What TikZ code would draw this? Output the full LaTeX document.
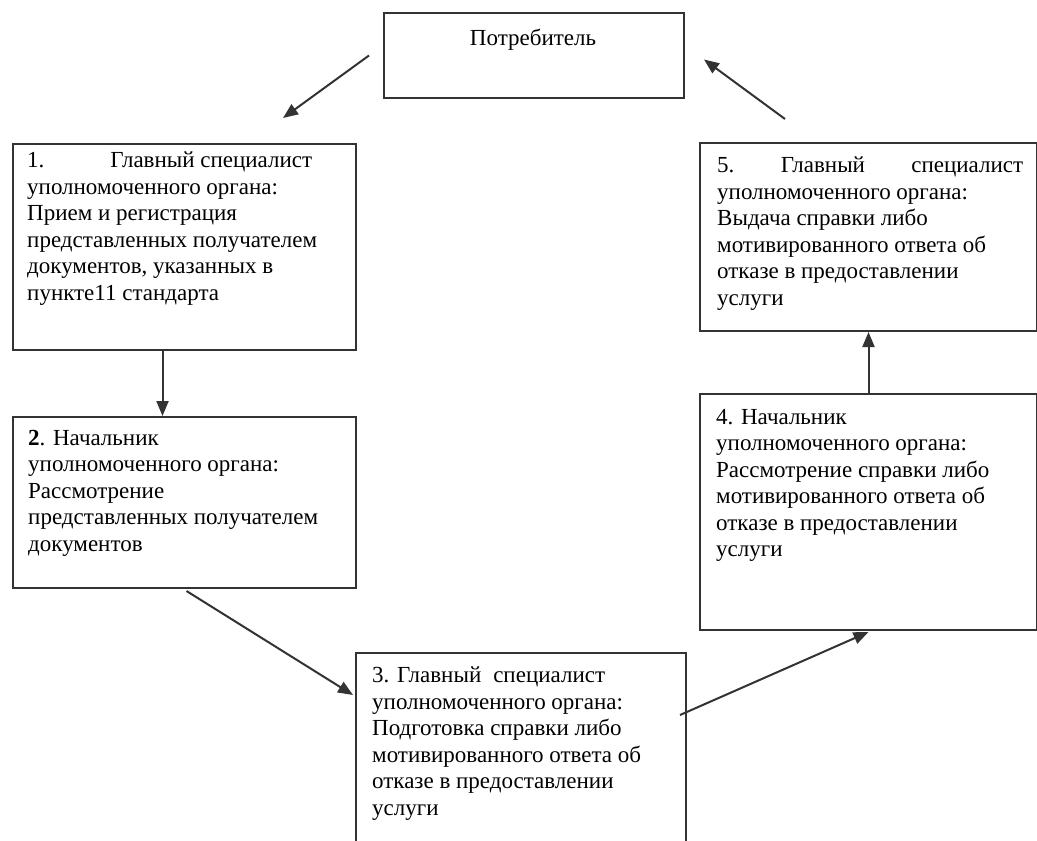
\documentclass[tikz,border=0pt]{standalone}
\usepackage{fontspec}
\setmainfont{Liberation Serif}
\usetikzlibrary{
  arrows.meta,
  calc,         % Calculations $...$
}
\def\mylinesep{26.5}
\def\myfontsize{23}
\tikzset{
  semithick,
  my box/.style={
    draw=black!80,
    line width=2pt,
    rectangle,
    anchor=north west,
    inner sep=0pt
  },
  my text/.style={
    anchor=north west,
    inner sep=0pt,
    align=left,
    font=\fontsize{\myfontsize}{\mylinesep}\selectfont
  },
  my arrow/.style={
    draw=black!80,
    line width=2pt,
    -{Triangle[length=15pt,width=12pt]}
  }
}

\begin{document}
\begin{tikzpicture}[x=1pt,y=-1pt]
\useasboundingbox (0,0) rectangle (1037,841);
\clip (0,0) rectangle (1037,841);
% boxes
\node[my box,minimum width=300pt,minimum height=85pt]  (b0) at (383,12)  {};
\node[my box,minimum width=343pt,minimum height=206pt] (b1) at (12,143)  {};
\node[my box,minimum width=343pt,minimum height=171pt] (b2) at (12,416)  {};
\node[my box,minimum width=330pt,minimum height=220pt] (b3) at (355,652) {};
\node[my box,minimum width=337pt,minimum height=236pt] (b4) at (699,393) {};
\node[my box,minimum width=337pt,minimum height=188pt] (b5) at (699,142) {};
% texts
\node[my text,anchor=north] (t0) at (533,29) {Потребитель};
\node[my text] (t1) at (27,152) {1.\hspace{66pt}Главный специалист\\
  уполномоченного органа:\\Прием и регистрация\\представленных получателем\\
  документов, указанных в\\пункте11 стандарта};
\node[my text] (t2) at (28,430) {\textbf{2}. Начальник\\уполномоченного органа:\\
  Рассмотрение\\представленных получателем\\документов};
\node[my text] (t3) at (372,667) {3. Главный\hspace{12pt}специалист\\
  уполномоченного органа:\\Подготовка справки либо\\мотивированного ответа об\\
  отказе в предоставлении\\услуги};
\node[my text] (t4) at (716,409) {4. Начальник\\уполномоченного органа:\\
  Рассмотрение справки либо\\мотивированного ответа об\\
  отказе в предоставлении\\услуги};
\node[my text] (t5) at (717,157) {\makebox[306pt][l]{5.\hfill Главный\hfill специалист}\\
  уполномоченного органа:\\Выдача справки либо\\мотивированного ответа об\\
  отказе в предоставлении\\услуги};
% arrows
\draw[my arrow] ($(b0.west)+(-14,0)$) -- ($(b1.north west)+(271,-25)$);
\draw[my arrow] (b1.south) ++(-22,0) coordinate (c1) -- (c1 |- b2.north);
\draw[my arrow] ($(b2.south)+(2,2)$) -- ($(b3.north west)+(-2,43)$);
\draw[my arrow] ($(b3.north east)+(-7,63)$) -- ($(b4.south)+(0,1)$);
\draw[my arrow] (b4.north) -- (b5.south);
\draw[my arrow] ($(b5.north west)+(86,-23)$) -- ($(b0.east)+(19,4)$);
\end{tikzpicture}
\end{document}
